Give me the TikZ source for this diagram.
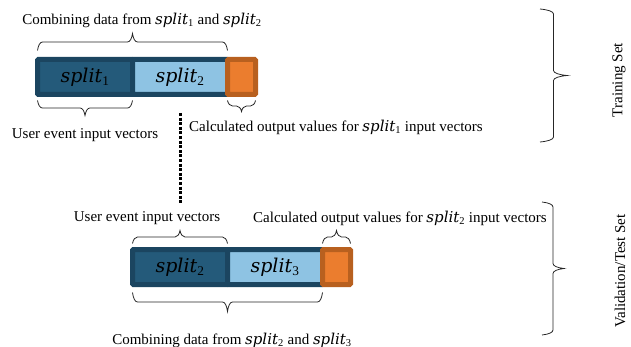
\documentclass[tikz,border=0pt]{standalone}
\usepackage{fontspec}
\setmainfont{Liberation Serif}
\newfontfamily\splfont{DejaVu Serif}
\usetikzlibrary{positioning,decorations.pathreplacing}
\definecolor{darkblue}{HTML}{1B4560}
\definecolor{midblue}{HTML}{245A7A}
\definecolor{lightblue}{HTML}{8EC3E3}
\definecolor{orangefill}{HTML}{EB7D2E}
\definecolor{orangeline}{HTML}{B8601F}
\newcommand{\spl}[1]{{\splfont\itshape split}\textsubscript{#1}}

\begin{document}
\begin{tikzpicture}[x=1pt,y=-1pt,
    font=\fontsize{15}{17}\selectfont,
    seg/.style={draw=darkblue,line width=5pt,inner sep=0pt,outer sep=0pt,
        minimum height=35pt,minimum width=95pt,rounded corners=1pt,
        font=\fontsize{19}{21}\selectfont},
    oldseg/.style={seg,fill=midblue},
    newseg/.style={seg,fill=lightblue},
    outseg/.style={seg,draw=orangeline,fill=orangefill,minimum width=28pt},
    brc/.style={decorate,decoration={brace,amplitude=5pt,transform={yscale=#1/5}},
        line width=0.8pt,draw=black!85},
    brc/.default=15,
    lbl/.style={inner sep=1pt}
]
    \useasboundingbox (0,0) rectangle (631,347);

    \node[oldseg] (s1) at (85,77) {\spl{1}};
    \node[newseg, right=0pt of s1] (s2) {\spl{2}};
    \node[outseg, right=0pt of s2] (o1) {};

    \node[oldseg] (b2) at (180,267) {\spl{2}};
    \node[newseg, right=0pt of b2] (b3) {\spl{3}};
    \node[outseg, right=0pt of b3] (o2) {};

    \draw[brc=17] ([yshift=9pt]s1.north west) -- ([yshift=9pt]s2.north east);
    \draw[brc=15] ([yshift=-6pt]s1.south east) -- ([yshift=-6pt]s1.south west);
    \draw[brc=11] ([yshift=-6pt]o1.south east) -- ([yshift=-6pt]o1.south west);

    \draw[brc=13] ([yshift=6pt]b2.north west) -- ([yshift=6pt]b2.north east);
    \draw[brc=13] ([yshift=6pt]o2.north west) -- ([yshift=6pt]o2.north east);
    \draw[brc=19] ([yshift=-8pt]b3.south east) -- ([yshift=-8pt]b2.south west);

    \node[lbl] (comb1) at (142,20) {Combining data from \spl{1} and \spl{2}};
    \node[lbl] (user1) at (85,135) {User event input vectors};
    \node[lbl] (calc1) at (336,127) {Calculated output values for \spl{1} input vectors};

    \node[lbl] (user2) at (147,218) {User event input vectors};
    \node[lbl] (calc2) at (400,218) {Calculated output values for \spl{2} input vectors};
    \node[lbl] (comb2) at (232,340) {Combining data from \spl{2} and \spl{3}};

    \coordinate (tr1) at (540,9);
    \coordinate (tr2) at (540,142);
    \coordinate (va1) at (542,202);
    \coordinate (va2) at (542,335);
    \draw[brc=27] (tr1) -- (tr2);
    \draw[brc=22] (va1) -- (va2);
    \node[lbl,rotate=90] (train) at (619,80) {Training Set};
    \node[lbl,rotate=90] (valid) at (620,271) {Validation/Test Set};

    \coordinate (d1) at (180,113);
    \coordinate (d2) at (180,203);
    \draw[line width=3pt,dash pattern=on 3pt off 1.6pt] (d1) -- (d2);
\end{tikzpicture}
\end{document}
